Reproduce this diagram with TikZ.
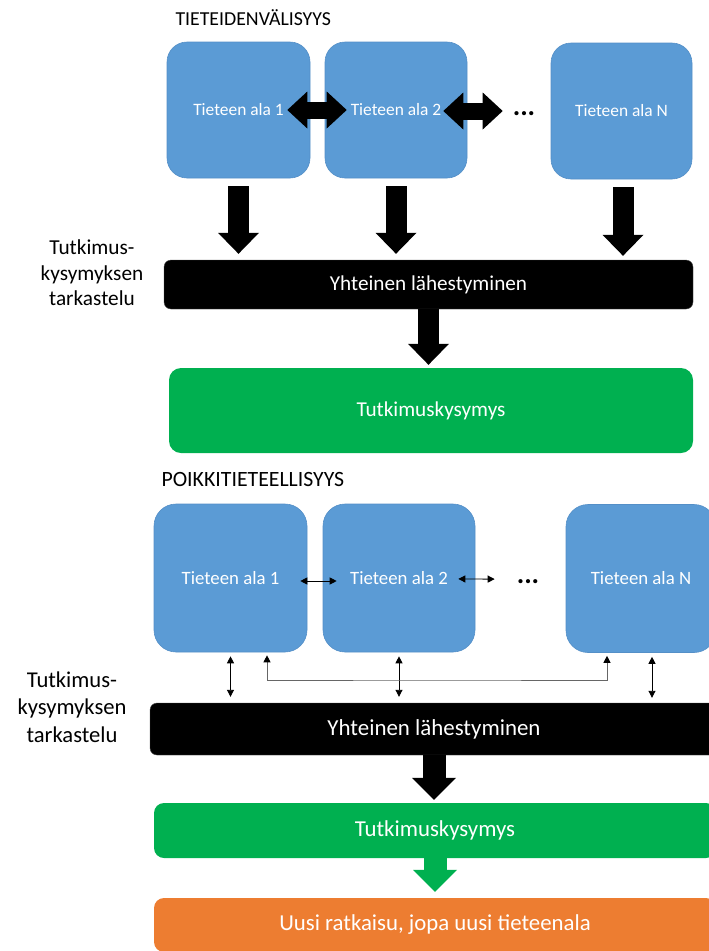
\documentclass[tikz,border=0pt]{standalone}
\usepackage{fontspec}
\setmainfont{Carlito}
\usetikzlibrary{arrows.meta}

\definecolor{fieldblue}{RGB}{91,155,213}
\definecolor{fieldedge}{RGB}{84,143,199}
\definecolor{questgreen}{RGB}{0,176,80}
\definecolor{neworange}{RGB}{237,125,49}

\begin{document}
\begin{tikzpicture}[x=1pt, y=-1pt,
	field/.style={rectangle, rounded corners=20pt, fill=fieldblue, draw=fieldedge, line width=0.6pt, text=white, inner sep=0pt},
	bar/.style={rectangle, inner sep=0pt, text=white},
	side/.style={align=center, text=black},
	fat/.style={line width=21pt, -{Triangle[width=41pt,length=21pt,line width=0pt]}},
	fatboth/.style={line width=17pt, {Triangle[width=37pt,length=20pt,line width=0pt]}-{Triangle[width=37pt,length=20pt,line width=0pt]}},
	thin/.style={line width=0.9pt, {Triangle[width=7pt,length=7pt,color=black]}-{Triangle[width=7pt,length=7pt,color=black]}}]
	\clip (0,0) rectangle (709,951);
	
	% TIETEIDENVALISYYS
	\node (t1) at (172,25) [anchor=base west, font=\fontsize{19.8}{22}\selectfont]{TIETEIDENVÄLISYYS};
	
	\node (a1) at (238.5,110) [field, minimum width=143pt, minimum height=136pt, font=\fontsize{17.4}{20}\selectfont]{Tieteen ala 1};
	\node (a2) at (396,110) [field, minimum width=142pt, minimum height=136pt, font=\fontsize{17.4}{20}\selectfont]{Tieteen ala 2};
	\node (aN) at (621.5,111) [field, minimum width=141pt, minimum height=136pt, font=\fontsize{17.4}{20}\selectfont]{Tieteen ala N};
	\node (d1) at (524,113.5) [font=\fontsize{28}{30}\selectfont\bfseries]{...};
	
	\node (yh1) at (428.5,284.5) [bar, fill=black, draw=black!70, rounded corners=7pt, minimum width=529pt, minimum height=49pt, font=\fontsize{21.2}{24}\selectfont]{Yhteinen lähestyminen};
	\node (tk1) at (431,410.5) [bar, fill=questgreen, rounded corners=12pt, minimum width=524pt, minimum height=85pt, font=\fontsize{21.2}{24}\selectfont]{Tutkimuskysymys};
	\node (s1) at (92,273) [side, font=\fontsize{21.3}{25.5}\selectfont]{Tutkimus-\\kysymyksen\\tarkastelu};
	
	\draw[fatboth] (a1.east) -- (a2.west) [shorten <=-23pt, shorten >=-22pt];
	\draw[fatboth] (a2.east |- aN) -- (aN.west) [shorten <=-24pt, shorten >=48pt];
	\draw[fat, shorten <=8pt, shorten >=6pt] (a1.south) -- (a1.south |- yh1.north);
	\draw[fat, shorten <=8pt, shorten >=6pt] (a2.south) -- (a2.south |- yh1.north);
	\draw[fat, shorten <=8pt, shorten >=4pt] ([xshift=1.5pt]aN.south) -- ([xshift=1.5pt]aN.south |- yh1.north);
	\draw[fat, line width=21pt, shorten >=3pt] (yh1.south) -- (yh1.south |- tk1.north);
	
	% POIKKITIETEELLISYYS
	\node (t2) at (158,486) [anchor=base west, font=\fontsize{21.8}{24}\selectfont]{POIKKITIETEELLISYYS};
	
	\node (b1) at (230.5,578) [field, rounded corners=22pt, minimum width=153pt, minimum height=148pt, font=\fontsize{18.8}{22}\selectfont]{Tieteen ala 1};
	\node (b2) at (399,578) [field, rounded corners=22pt, minimum width=152pt, minimum height=148pt, font=\fontsize{18.8}{22}\selectfont]{Tieteen ala 2};
	\node (bN) at (641,578.5) [field, rounded corners=22pt, minimum width=150pt, minimum height=148pt, font=\fontsize{18.8}{22}\selectfont]{Tieteen ala N};
	\node (d2) at (528,581.5) [font=\fontsize{28}{30}\selectfont\bfseries]{...};
	
	\node (yh2) at (434,729) [bar, fill=black, draw=black!70, rounded corners=7pt, minimum width=568pt, minimum height=52pt, font=\fontsize{22.9}{26}\selectfont]{Yhteinen lähestyminen};
	\node (tk2) at (435,830.5) [bar, fill=questgreen, rounded corners=10pt, minimum width=562pt, minimum height=55pt, font=\fontsize{22.8}{26}\selectfont]{Tutkimuskysymys};
	\node (un) at (435,925) [bar, fill=neworange, rounded corners=10pt, minimum width=562pt, minimum height=54pt, font=\fontsize{22.8}{26}\selectfont]{Uusi ratkaisu, jopa uusi tieteenala};
	\node (s2) at (72,707) [side, font=\fontsize{22.6}{27.5}\selectfont]{Tutkimus-\\kysymyksen\\tarkastelu};
	
	\draw[thin] ([yshift=-3pt]b1.east) -- ([yshift=-3pt]b2.west) [shorten <=-7pt, shorten >=-14pt];
	\draw[thin] ([yshift=-1pt]b2.east) -- ([yshift=-1pt]bN.west) [shorten <=-17pt, shorten >=71pt];
	\draw[thin, shorten <=4pt, shorten >=6pt] (b1.south) -- (b1.south |- yh2.north);
	\draw[thin, shorten <=4pt, shorten >=6pt] (b2.south) -- (b2.south |- yh2.north);
	\draw[thin, shorten <=4pt, shorten >=5pt] ([xshift=11pt]bN.south) -- ([xshift=11pt]bN.south |- yh2.north);
	\coordinate (rail) at (437,680);
	\draw[thin, draw=black!60, shorten <=3pt, shorten >=3pt] ([xshift=36.5pt]b1.south) |- (rail) -| ([xshift=-34pt]bN.south);
	
	\draw[fat, line width=23pt, -{Triangle[width=44pt,length=22pt,line width=0pt]}, shorten >=3pt] (yh2.south) -- (yh2.south |- tk2.north);
	\draw[fat, draw=questgreen, line width=23pt, -{Triangle[width=44pt,length=22pt,line width=0pt]}, shorten >=6pt] (tk2.south) -- (tk2.south |- un.north);
	
\end{tikzpicture}
\end{document}
